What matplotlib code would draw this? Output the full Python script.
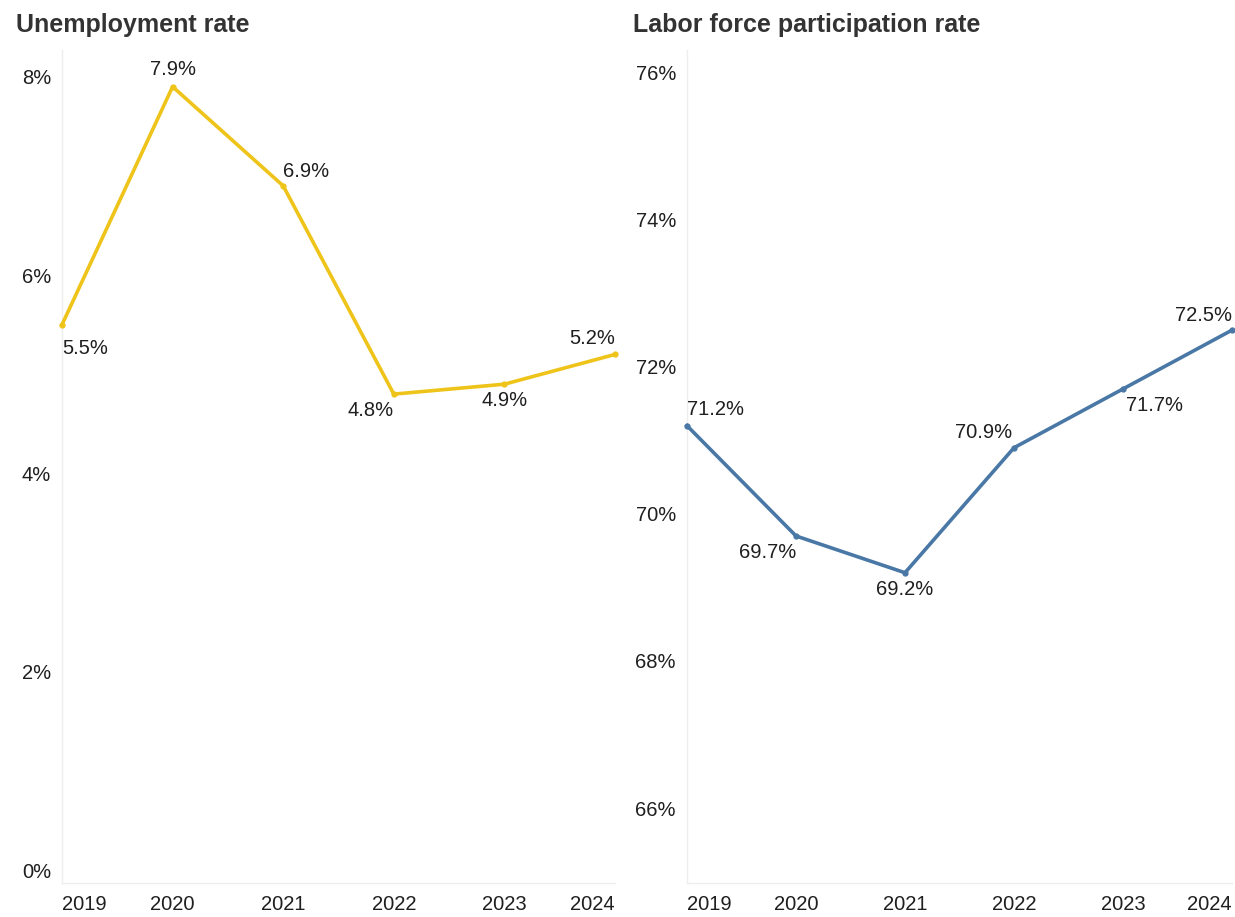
import matplotlib.pyplot as plt

plt.rcParams["font.family"] = ["Liberation Sans", "DejaVu Sans"]

YEARS = ["2019", "2020", "2021", "2022", "2023", "2024"]
UNEMPLOYMENT = [5.5, 7.9, 6.9, 4.8, 4.9, 5.2]
PARTICIPATION = [71.2, 69.7, 69.2, 70.9, 71.7, 72.5]

UNEMP_TICKS = [0, 2, 4, 6, 8]
PART_TICKS = [66, 68, 70, 72, 74, 76]

# label placement per point: (ha, dx px, dy px)
UNEMP_LABEL_POS = [("left", 0, -24), ("center", 0, 17), ("left", 0, 14),
                   ("right", 0, -16), ("center", 0, -16), ("right", 0, 16)]
PART_LABEL_POS = [("left", 0, 16), ("right", 0, -17), ("center", 0, -17),
                  ("right", -2, 15), ("left", 3, -17), ("right", 0, 15)]

YELLOW = "#EFC41A"
BLUE = "#4A78A6"
TEXT = "#1f1f1f"
TITLE = "#333333"
AXIS_LINE = "#eeeeee"

W, H = 1235, 917
PX = 72 / 100  # pixels -> points at dpi 100


def draw_panel(fig, rect, values, color, ticks, ylim, label_pos, title, title_x):
    ax = fig.add_axes(rect)
    x = list(range(len(values)))
    ax.plot(x, values, color=color, linewidth=2.6, marker="o", markersize=3.5,
            solid_joinstyle="round", clip_on=False, zorder=3)
    ax.set_xlim(0, len(values) - 1)
    ax.set_ylim(*ylim)

    ax.set_yticks(ticks)
    ax.set_yticklabels([f"{t}%" for t in ticks])
    ax.set_xticks(x)
    ax.set_xticklabels(YEARS)
    tl = ax.get_xticklabels()
    tl[0].set_ha("left")
    tl[-1].set_ha("right")
    ax.tick_params(length=0, labelsize=14.5, labelcolor=TEXT)
    ax.tick_params(axis="y", pad=8)
    ax.tick_params(axis="x", pad=9)

    for side in ("top", "right"):
        ax.spines[side].set_visible(False)
    for side in ("left", "bottom"):
        ax.spines[side].set_color(AXIS_LINE)
        ax.spines[side].set_linewidth(1)

    for xi, v, (ha, dx, dy) in zip(x, values, label_pos):
        ax.annotate(f"{v:.1f}%", (xi, v), xytext=(dx * PX, dy * PX),
                    textcoords="offset points", ha=ha, va="center",
                    fontsize=14.5, color=TEXT, annotation_clip=False)

    fig.text(title_x / W, 1 - 32 / H, title, fontsize=18, fontweight="bold",
             color=TITLE, ha="left", va="baseline")
    return ax


fig = plt.figure(figsize=(W / 100, H / 100), dpi=100)

bottom = (H - 883) / H
height = (883 - 50) / H

draw_panel(fig, [62 / W, bottom, 553 / W, height], UNEMPLOYMENT, YELLOW,
           UNEMP_TICKS, (-0.13, 8.27), UNEMP_LABEL_POS, "Unemployment rate", 16)
draw_panel(fig, [687 / W, bottom, 545 / W, height], PARTICIPATION, BLUE,
           PART_TICKS, (64.98, 76.31), PART_LABEL_POS,
           "Labor force participation rate", 633)

fig.savefig("out.png", dpi=100, facecolor="white")
